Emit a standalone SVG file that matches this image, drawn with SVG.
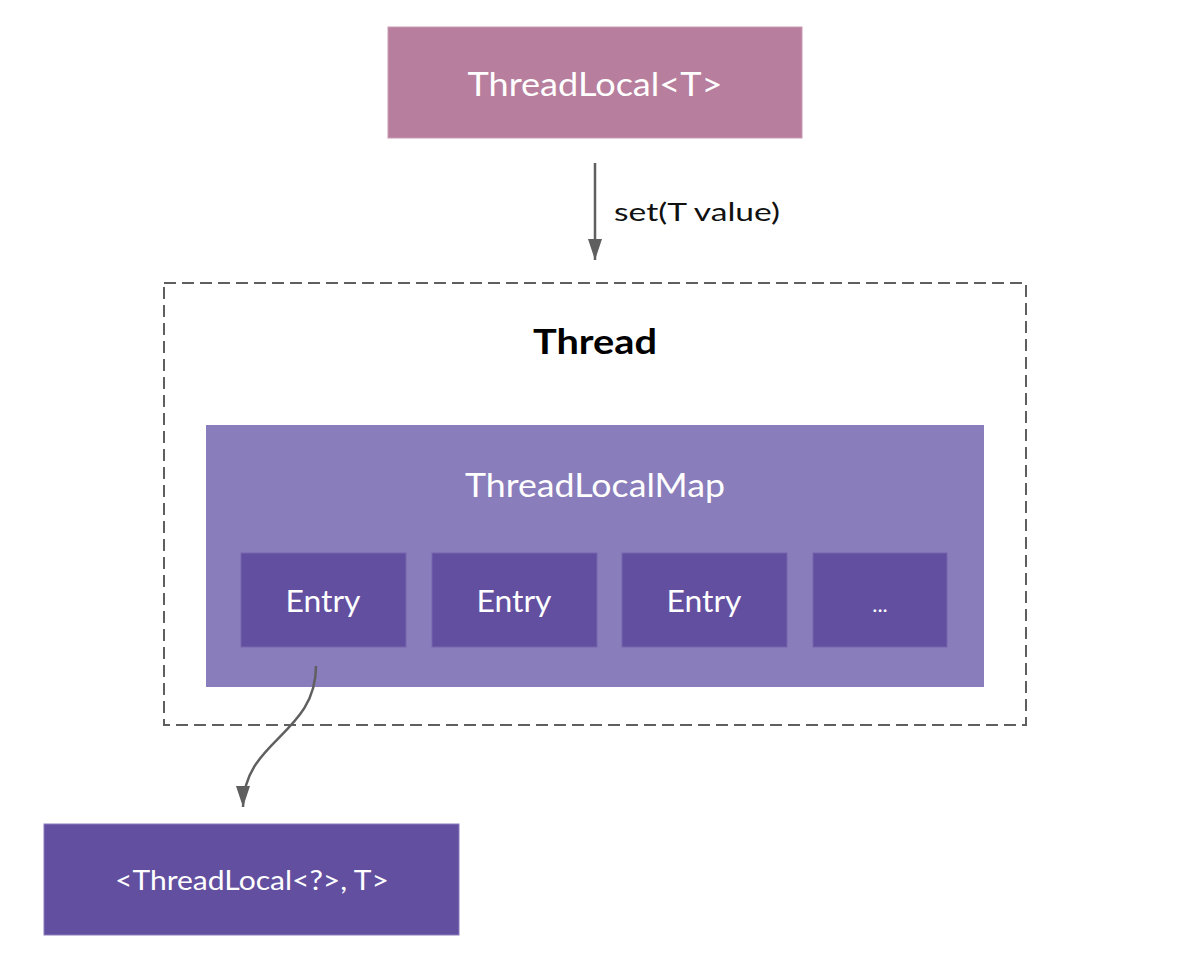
<svg xmlns="http://www.w3.org/2000/svg" width="1200" height="964" viewBox="0 0 1200 964">
<style>
text{font-family:Lato,"Noto Sans","Liberation Sans",sans-serif;text-anchor:middle}
.w{fill:#ffffff}
.entry{fill:#624fa0;stroke:#7566ad;stroke-width:1}
.conn{fill:none;stroke:#5f5f5f;stroke-width:2.5}
</style>
<defs>
<marker id="ah" markerWidth="21" markerHeight="14" refX="21" refY="7" orient="auto" markerUnits="userSpaceOnUse" viewBox="0 0 21 14">
<path d="M0,0 L21,7 L0,14 z" fill="#5f5f5f"/>
</marker>
</defs>
<rect width="1200" height="964" fill="#ffffff"/>
<g id="threadlocal">
<rect x="388" y="27" width="414" height="111" fill="#b77e9d" stroke="#c99bb4" stroke-width="1"/>
<text x="595" y="96" class="w" font-size="33" textLength="255" lengthAdjust="spacingAndGlyphs">ThreadLocal&lt;T&gt;</text>
</g>
<g id="thread">
<rect x="164" y="283" width="862" height="442" fill="none" stroke="#5f5f5f" stroke-width="2" stroke-dasharray="12 6"/>
<text x="595" y="354" font-size="34" font-weight="bold" fill="#000000" textLength="124" lengthAdjust="spacingAndGlyphs">Thread</text>
</g>
<g id="threadlocalmap">
<rect x="206" y="425" width="778" height="262" fill="#8a7dbb"/>
<text x="595" y="497" class="w" font-size="33" textLength="260" lengthAdjust="spacingAndGlyphs">ThreadLocalMap</text>
</g>
<g id="entry1">
<rect class="entry" x="241" y="553" width="165" height="94"/>
<text x="323" y="612" class="w" font-size="30" textLength="75" lengthAdjust="spacingAndGlyphs">Entry</text>
</g>
<g id="entry2">
<rect class="entry" x="432" y="553" width="165" height="94"/>
<text x="514" y="612" class="w" font-size="30" textLength="75" lengthAdjust="spacingAndGlyphs">Entry</text>
</g>
<g id="entry3">
<rect class="entry" x="622" y="553" width="165" height="94"/>
<text x="704" y="612" class="w" font-size="30" textLength="75" lengthAdjust="spacingAndGlyphs">Entry</text>
</g>
<g id="entry4">
<rect class="entry" x="813" y="553" width="134" height="94"/>
<text x="880" y="612" class="w" font-size="22">...</text>
</g>
<g id="pair">
<rect x="44" y="824" width="415" height="111" fill="#624fa0" stroke="#8a7dbb" stroke-width="1"/>
<text x="252" y="890" class="w" font-size="26" textLength="274" lengthAdjust="spacingAndGlyphs">&lt;ThreadLocal&lt;?&gt;, T&gt;</text>
</g>
<g id="connectors">
<path class="conn" d="M595,163 L595,260" marker-end="url(#ah)"/>
<text x="614" y="221" font-size="25" fill="#111111" style="text-anchor:start" textLength="166" lengthAdjust="spacingAndGlyphs">set(T value)</text>
<path class="conn" d="M316,666 C316,735 243,740 243,807" marker-end="url(#ah)"/>
</g>
</svg>
